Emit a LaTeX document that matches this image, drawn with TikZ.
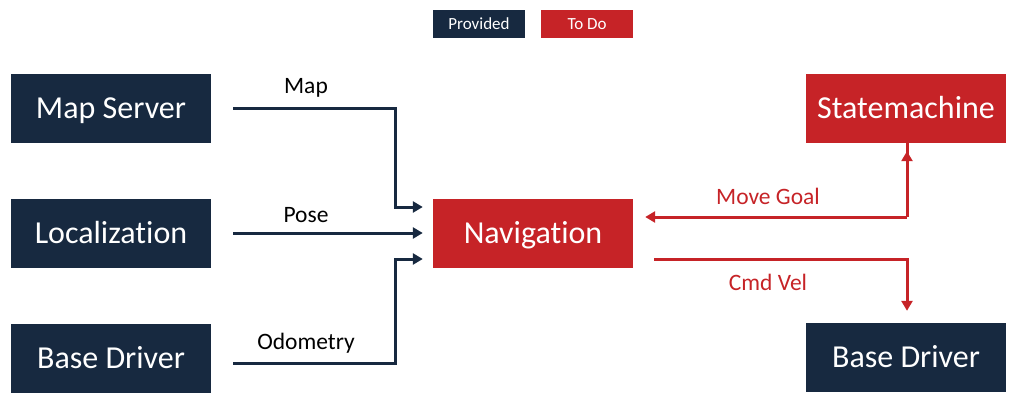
\documentclass[tikz,border=0pt]{standalone}
\usepackage{fontspec}
\setmainfont{Carlito}[Ligatures=NoCommon]
\usetikzlibrary{arrows.meta,calc}
\definecolor{navy}{RGB}{23,41,64}
\definecolor{tored}{RGB}{198,35,39}
\tikzset{
  blockbox/.style={minimum width=200pt,minimum height=69pt,inner sep=0pt,text=white,font=\fontsize{32}{34}\selectfont,text height=20pt,text depth=-3.5pt},
  provbox/.style={blockbox,fill=navy},
  redbox/.style={blockbox,fill=tored},
  legbox/.style={minimum width=92pt,minimum height=28pt,inner sep=0pt,text=white,font=\fontsize{17}{19}\selectfont},
  navline/.style={draw=navy,line width=3pt,-{Triangle[length=10pt,width=11pt]}},
  redline/.style={draw=tored,line width=3pt,-{Triangle[length=10pt,width=11pt]}},
  navlabel/.style={text=black,font=\fontsize{23.5}{25}\selectfont},
  redlabel/.style={text=tored,font=\fontsize{23.5}{25}\selectfont},
}
\begin{document}
\begin{tikzpicture}[x=1pt,y=-1pt]
\useasboundingbox (0,0) rectangle (1022,405);
% legend
\node[legbox,fill=navy] (prov) at (479,24) {Provided};
\node[legbox,fill=tored] (todo) at (587,24) {To Do};
% boxes
\node[provbox] (mapserver) at (111,108.5) {Map Server};
\node[provbox] (loc) at (111,233.5) {Localization};
\node[provbox] (base) at (111,358.5) {Base Driver};
\node[redbox] (nav) at (533,233.5) {Navigation};
\node[redbox] (state) at (906,108.5) {Statemachine};
\node[provbox] (base2) at (906,357.5) {Base Driver};
% inputs to navigation
\coordinate (mapstart) at (233,108);
\coordinate (posestart) at (233,233);
\coordinate (odostart) at (233,363);
\draw[navline] (mapstart) -| (395,207) -- ($(nav.west)+(-10,-26.5)$);
\draw[navline] (posestart) -- ($(nav.west)+(-10,-0.5)$);
\draw[navline] (odostart) -| (395,259) -- ($(nav.west)+(-10,25.5)$);
\node[navlabel] (lmap) at (306,88) {Map};
\node[navlabel] (lpose) at (306,215) {Pose};
\node[navlabel] (lodo) at (306,343) {Odometry};
% outputs
\draw[redline] (907,217) |- ($(state.south)+(1,8)$);
\draw[redline] (907,217) -- ($(nav.east)+(12,-16.5)$);
\draw[redline] ($(nav.east)+(21,25.5)$) -| ($(base2.north)+(1,-12)$);
\node[redlabel] (lmove) at (768,196) {Move Goal};
\node[redlabel] (lcmd) at (768,282) {Cmd Vel};
\end{tikzpicture}
\end{document}
